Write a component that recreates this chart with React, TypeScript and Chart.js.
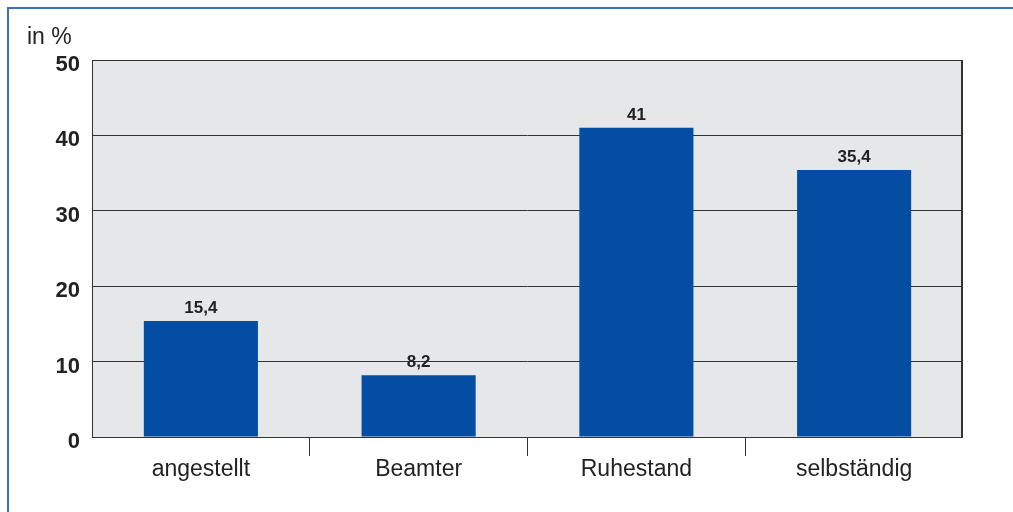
import React, { useEffect, useRef } from "react";
import { Chart, registerables } from "chart.js";

Chart.register(...registerables);

const categories = ["angestellt", "Beamter", "Ruhestand", "selbständig"];
const values = [15.4, 8.2, 41, 35.4];
const yTicks = [0, 10, 20, 30, 40, 50];
const unitLabel = "in %";

const FONT = "'Liberation Sans', Arial, Helvetica, sans-serif";

const plotPlugin = {
  id: "plotDecor",
  beforeDraw(chart: any) {
    const { ctx, chartArea: a } = chart;
    ctx.save();
    ctx.fillStyle = "#e6e7e9";
    ctx.fillRect(a.left, a.top, a.right - a.left, a.bottom - a.top);
    ctx.restore();
  },
  afterDraw(chart: any) {
    const { ctx, chartArea: a } = chart;
    ctx.save();
    ctx.strokeStyle = "#333333";
    ctx.lineWidth = 1;
    ctx.strokeRect(a.left + 0.5, a.top + 0.5, a.right - a.left - 1, a.bottom - a.top);
    ctx.lineWidth = 2;
    ctx.beginPath();
    ctx.moveTo(a.right - 1, a.top);
    ctx.lineTo(a.right - 1, a.bottom + 1);
    ctx.stroke();
    // unit label
    ctx.fillStyle = "#222222";
    ctx.font = `23px ${FONT}`;
    ctx.textAlign = "left";
    ctx.textBaseline = "alphabetic";
    ctx.fillText(unitLabel, a.left - 65, a.top - 16);
    // y tick labels
    const ys = chart.scales.y;
    ctx.font = `bold 22px ${FONT}`;
    ctx.textAlign = "right";
    yTicks.forEach((v) => {
      ctx.fillText(String(v), a.left - 12, ys.getPixelForValue(v) + 11);
    });
    // value labels
    const meta = chart.getDatasetMeta(0);
    ctx.font = `bold 17px ${FONT}`;
    ctx.textAlign = "center";
    meta.data.forEach((bar: any, i: number) => {
      const v = chart.data.datasets[0].data[i] as number;
      ctx.fillText(String(v).replace(".", ","), bar.x, bar.y - 8);
    });
    ctx.restore();
  },
};

export default function App() {
  const ref = useRef<HTMLCanvasElement>(null);
  useEffect(() => {
    if (!ref.current) return;
    const chart = new Chart(ref.current, {
      type: "bar",
      data: {
        labels: categories,
        datasets: [
          {
            data: values,
            backgroundColor: "#034ea2",
            categoryPercentage: 1,
            barPercentage: 0.524,
          },
        ],
      },
      options: {
        animation: false,
        responsive: false,
        maintainAspectRatio: false,
        layout: { padding: { left: 0, top: 60, right: 50, bottom: 0 } },
        plugins: { legend: { display: false }, tooltip: { enabled: false } },
        scales: {
          x: {
            afterFit: (s: any) => {
              s.height = 75;
            },
            grid: {
              offset: true,
              drawOnChartArea: false,
              drawTicks: true,
              tickLength: 19,
              color: (c: any) =>
                c.type !== "tick" || c.index === 0 ? "rgba(0,0,0,0)" : "#333333",
            },
            border: { display: false },
            ticks: {
              color: "#222222",
              font: { family: FONT, size: 23 },
              padding: 0,
            },
          },
          y: {
            min: 0,
            max: 50,
            afterFit: (s: any) => {
              s.width = 92;
            },
            afterBuildTicks: (s: any) => {
              s.ticks = yTicks.map((v) => ({ value: v }));
            },
            grid: { color: "#333333", lineWidth: 1, drawTicks: false },
            border: { display: false },
            ticks: {
              color: "rgba(0,0,0,0)",
              font: { family: FONT, size: 22, weight: "bold" },
              padding: 12,
            },
          },
        },
      },
      plugins: [plotPlugin],
    } as any);
    return () => chart.destroy();
  }, []);

  return (
    <div style={{ position: "absolute", left: 0, top: 0, width: 1013, height: 512, background: "#fff" }}>
      <div
        style={{
          position: "absolute",
          left: 7,
          top: 7,
          width: 1006,
          height: 505,
          borderLeft: "2px solid #3c6fb6",
          borderTop: "2px solid #3c6fb6",
          boxSizing: "border-box",
        }}
      />
      <canvas ref={ref} width={1013} height={512} style={{ position: "absolute", left: 0, top: 0 }} />
    </div>
  );
}
